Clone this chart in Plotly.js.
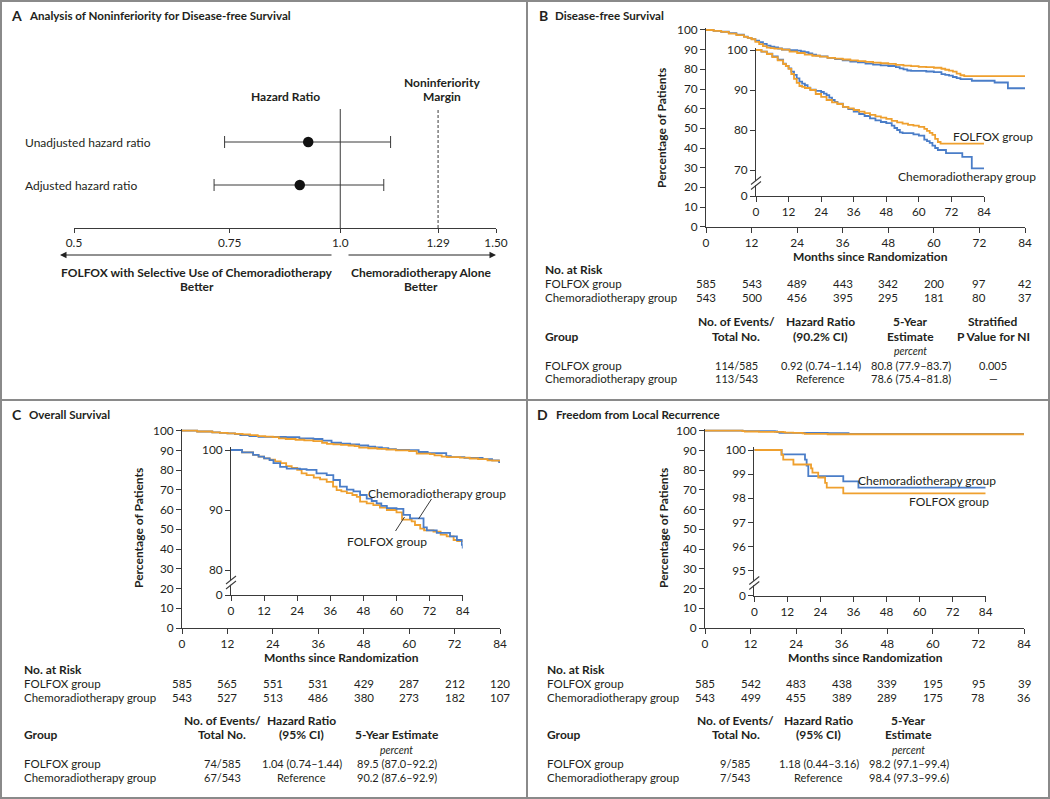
<!DOCTYPE html>
<html><head><meta charset="utf-8">
<script src="https://cdn.plot.ly/plotly-3.0.1.min.js"></script>
<style>html,body{margin:0;padding:0;background:#fff}#chart{width:1050px;height:799px}</style>
</head><body><div id="chart"></div>
<script>
// ================= DATA =================
// Panel A: noninferiority forest plot
const hrLabels = ['Unadjusted hazard ratio', 'Adjusted hazard ratio'];
const hrPoint = [0.92, 0.90];
const hrLow = [0.74, 0.72];
const hrHigh = [1.14, 1.12];
const hrTickVals = [0.5, 0.75, 1.0, 1.29, 1.5];
const hrTickText = ['0.5', '0.75', '1.0', '1.29', '1.50'];
const hrNull = 1.0;
const niMargin = 1.29;

// shared axes
const monthTicks = [0, 12, 24, 36, 48, 60, 72, 84];
const pctTicks = [0, 10, 20, 30, 40, 50, 60, 70, 80, 90, 100];
const groups = ['FOLFOX group', 'Chemoradiotherapy group'];

// Panel B: disease-free survival (Kaplan-Meier steps)
const dfsFolfoxT = [0,2,4,6,8,10,11,12,13,14,15,16,17,18,20,22,24,26,28,30,32,34,36,38,40,42,44,46,48,50,52,54,56,58,60,62,63,64,65,66,67,68,84];
const dfsFolfoxS = [100,99.6,99.0,98.2,97.4,96.5,96.0,95.3,94.0,92.8,91.8,91.0,90.8,90.5,90.0,89.0,88.3,87.5,86.9,86.5,85.8,85.4,85.0,84.6,84.2,83.8,83.4,83.1,82.8,82.3,81.9,81.6,81.3,81.1,80.8,80.3,79.8,79.3,78.8,77.8,77.0,76.6,76.6];
const dfsChemoT = [0,2,4,6,8,10,11,12,13,14,15,16,17,18,19,20,22,24,25,26,27,28,29,30,32,34,36,38,40,42,44,46,48,50,51,52,53,54,58,60,62,63,64,65,66,67,70,76,79.5,84];
const dfsChemoS = [100,99.6,99.1,98.4,97.6,96.6,96.0,95.4,94.6,93.8,92.9,92.1,91.6,91.2,90.6,90.1,89.8,89.5,89.1,88.7,88.1,87.5,87.0,86.6,85.8,85.2,84.6,84.0,83.5,82.9,82.4,82.0,81.7,81.1,80.5,80.0,79.4,79.2,78.9,78.6,77.6,77.2,76.8,76.1,75.5,75.0,74.2,73.3,70.4,70.4];
const dfsInsetTicks = [70, 80, 90, 100];
const riskDfsFolfox = [585, 543, 489, 443, 342, 200, 97, 42];
const riskDfsChemo = [543, 500, 456, 395, 295, 181, 80, 37];
const dfsHeaders = [['No. of Events/', 'Total No.'], ['Hazard Ratio', '(90.2% CI)'], ['5-Year', 'Estimate'], ['Stratified', 'P Value for NI']];
const dfsRows = [['114/585', '0.92 (0.74–1.14)', '80.8 (77.9–83.7)', '0.005'], ['113/543', 'Reference', '78.6 (75.4–81.8)', '—']];

// Panel C: overall survival
const osFolfoxT = [0,4,8,10,12,14,16,18,20,22,24,25.6,27.4,30,32.3,34.7,37,38.3,40,42,44,45.6,46.8,49.2,51.6,54,56.5,60,62,65.5,66.7,68.6,70,73.4,76,78.2,80.7,82,84];
const osFolfoxS = [100,99.6,99.2,98.9,98.6,98.4,98.1,97.8,97.3,97.0,96.7,96.1,95.8,95.4,95.1,94.7,93.9,93.3,93.1,92.8,92.5,92.2,91.4,91.1,90.8,90.4,90.0,89.6,88.4,88.1,87.5,86.9,86.6,86.4,85.9,85.6,85.0,84.8,84.7];
const osChemoT = [0,4,8,10,12,14,15.4,17.8,20.2,25,27.4,31,34.7,37.1,39.5,42,44.4,46.8,49.2,51,52.8,54.5,56.5,60,62.5,64.9,69.8,71,74.6,79.4,81.9,83.7,84];
const osChemoS = [100,99.6,99.2,98.9,98.6,98.3,97.8,97.2,96.9,96.8,96.7,96.1,95.8,95.0,93.9,93.4,93.1,92.5,91.9,91.5,91.1,90.7,90.3,90.2,89.2,88.6,87.1,86.6,86.2,85.6,85.0,84.2,83.6];
const osInsetTicks = [80, 90, 100];
const riskOsFolfox = [585, 565, 551, 531, 429, 287, 212, 120];
const riskOsChemo = [543, 527, 513, 486, 380, 273, 182, 107];
const osHeaders = [['No. of Events/', 'Total No.'], ['Hazard Ratio', '(95% CI)'], ['', '5-Year Estimate']];
const osRows = [['74/585', '1.04 (0.74–1.44)', '89.5 (87.0–92.2)'], ['67/543', 'Reference', '90.2 (87.6–92.9)']];

// Panel D: freedom from local recurrence
const lrFolfoxT = [0,9.9,10.5,14.2,20.6,21.1,23.2,25.7,26.3,32.3,84];
const lrFolfoxS = [100,99.8,99.6,99.4,99.24,99.06,98.86,98.64,98.44,98.2,98.2];
const lrChemoT = [0,9.9,18.4,19,19.6,32.3,37.8,84];
const lrChemoS = [100,99.82,99.6,99.35,98.92,98.7,98.44,98.44];
const lrInsetTicks = [95, 96, 97, 98, 99, 100];
const riskLrFolfox = [585, 542, 483, 438, 339, 195, 95, 39];
const riskLrChemo = [543, 499, 455, 389, 289, 175, 78, 36];
const lrHeaders = [['No. of Events/', 'Total No.'], ['Hazard Ratio', '(95% CI)'], ['5-Year', 'Estimate']];
const lrRows = [['9/585', '1.18 (0.44–3.16)', '98.2 (97.1–99.4)'], ['7/543', 'Reference', '98.4 (97.3–99.6)']];

// ================= LAYOUT HELPERS =================
const W = 1050, H = 799;
const FONT = 'Lato, "Open Sans", sans-serif';
const TXT = '#231f20';
const AX = '#3a3a3a';
const ORANGE = '#EFA02E', BLUE = '#4A7DC8';
const FS = 11.5, FB = 12, FT = 11.8, FV = 11;
const px = x => x / W;
const py = y => 1 - y / H;

function yAxisFrom(vLo, pLo, vHi, pHi, pBottom, extraTop) {
  const s = (pLo - pHi) / (vHi - vLo);
  const rLo = vLo - (pBottom - pLo) / s;
  const pTop = pHi - extraTop * s;
  return {domain: [1 - pBottom / H, 1 - pTop / H], range: [rLo, vHi + extraTop]};
}

const axBase = {
  showgrid: false, zeroline: false, showline: true, linecolor: AX, linewidth: 1,
  ticks: 'outside', ticklen: 5, tickwidth: 1, tickcolor: AX,
  tickfont: {family: FONT, size: FT, color: TXT}, fixedrange: true
};
function xAx(p0, p1, anchor, extra) {
  return Object.assign({}, axBase, {domain: [px(p0), px(p1)], range: [0, 84], anchor: anchor,
    tickvals: monthTicks, ticktext: monthTicks.map(String)}, extra || {});
}
function yMain(spec, anchor) {
  return Object.assign({}, axBase, {domain: spec.domain, range: spec.range, anchor: anchor,
    tickvals: pctTicks, ticktext: pctTicks.map(String)});
}
function yInset(spec, anchor, ticks) {
  return Object.assign({}, axBase, {domain: spec.domain, range: spec.range, anchor: anchor,
    tickvals: [spec.range[0]].concat(ticks), ticktext: ['0'].concat(ticks.map(String))});
}

function T(x, y, text, o) {
  o = o || {};
  let t = text;
  if (o.bold) t = '<b>' + t + '</b>';
  if (o.italic) t = '<i>' + t + '</i>';
  return {
    xref: o.xref || 'paper', yref: o.yref || 'paper',
    x: o.xref && o.xref !== 'paper' ? x : px(x),
    y: o.yref && o.yref !== 'paper' ? y : py(y),
    text: t, showarrow: false, xanchor: o.anchor || 'center', yanchor: 'middle',
    textangle: o.angle || 0,
    font: {family: FONT, size: o.size || FS, color: TXT}
  };
}
function line(x0, y0, x1, y1, color, width, dash) {
  return {type: 'line', xref: 'paper', yref: 'paper', x0: px(x0), y0: py(y0), x1: px(x1), y1: py(y1),
    line: {color: color, width: width, dash: dash || 'solid'}, layer: 'above'};
}
function breakMarks(xp, yc) {
  return [
    line(xp, yc - 2.3, xp, yc + 2.3, '#ffffff', 4),
    line(xp - 5, yc - 2.5 + 4, xp + 5, yc - 2.5 - 4, AX, 1.1),
    line(xp - 5, yc + 2.5 + 4, xp + 5, yc + 2.5 - 4, AX, 1.1)
  ];
}
function km(t, s, color, xa, ya) {
  return {type: 'scatter', mode: 'lines', x: t, y: s, xaxis: xa, yaxis: ya,
    line: {shape: 'hv', color: color, width: 1.8}, hoverinfo: 'skip', showlegend: false};
}

// ================= AXES =================
const bMain = yAxisFrom(0, 226.7, 100, 30, 226.7, 0.8);
const bIns = yAxisFrom(70, 170, 100, 50, 196, 0.6);
const cMain = yAxisFrom(0, 628, 100, 430.7, 628, 0.8);
const cIns = yAxisFrom(80, 570, 100, 450, 595, 0.5);
const dMain = yAxisFrom(0, 628, 100, 430.7, 628, 0.8);
const dIns = yAxisFrom(95, 570.7, 100, 450, 595.7, 0.12);

const rowIdx = hrLabels.map((_, i) => hrLabels.length - 1 - i);

const layout = {
  width: W, height: H, margin: {l: 0, r: 0, t: 0, b: 0},
  paper_bgcolor: '#ffffff', plot_bgcolor: 'rgba(0,0,0,0)', showlegend: false,
  font: {family: FONT, color: TXT},
  xaxis: Object.assign({}, axBase, {domain: [px(74), px(496)], type: 'log',
    range: [Math.log10(0.5), Math.log10(1.5)], anchor: 'y', tickvals: hrTickVals, ticktext: hrTickText, ticklen: 4}),
  yaxis: {domain: [py(228), py(100)], range: [-1, 1.977], visible: false, anchor: 'x', fixedrange: true},
  xaxis2: xAx(706, 1025, 'y2'), yaxis2: yMain(bMain, 'x2'),
  xaxis3: xAx(756, 984, 'y3'), yaxis3: yInset(bIns, 'x3', dfsInsetTicks),
  xaxis4: xAx(182, 500, 'y4'), yaxis4: yMain(cMain, 'x4'),
  xaxis5: xAx(231, 462.7, 'y5'), yaxis5: yInset(cIns, 'x5', osInsetTicks),
  xaxis6: xAx(705, 1024, 'y6'), yaxis6: yMain(dMain, 'x6'),
  xaxis7: xAx(754.3, 985.7, 'y7'), yaxis7: yInset(dIns, 'x7', lrInsetTicks),
  shapes: [], annotations: []
};

// ================= TRACES =================
const traces = [
  {type: 'scatter', mode: 'markers', x: hrPoint, y: rowIdx, xaxis: 'x', yaxis: 'y',
   marker: {size: 10.5, color: '#111'}, hoverinfo: 'skip', showlegend: false,
   error_x: {type: 'data', symmetric: false,
     array: hrPoint.map((p, i) => hrHigh[i] - p), arrayminus: hrPoint.map((p, i) => p - hrLow[i]),
     color: AX, thickness: 1, width: 6}},
  km(dfsChemoT, dfsChemoS, BLUE, 'x2', 'y2'), km(dfsFolfoxT, dfsFolfoxS, ORANGE, 'x2', 'y2'),
  km(dfsChemoT, dfsChemoS, BLUE, 'x3', 'y3'), km(dfsFolfoxT, dfsFolfoxS, ORANGE, 'x3', 'y3'),
  km(osChemoT, osChemoS, BLUE, 'x4', 'y4'), km(osFolfoxT, osFolfoxS, ORANGE, 'x4', 'y4'),
  km(osFolfoxT, osFolfoxS, ORANGE, 'x5', 'y5'), km(osChemoT, osChemoS, BLUE, 'x5', 'y5'),
  km(lrChemoT, lrChemoS, BLUE, 'x6', 'y6'), km(lrFolfoxT, lrFolfoxS, ORANGE, 'x6', 'y6'),
  km(lrChemoT, lrChemoS, BLUE, 'x7', 'y7'), km(lrFolfoxT, lrFolfoxS, ORANGE, 'x7', 'y7')
];

const S = layout.shapes, A = layout.annotations;

// panel frames
const FR = '#8a8a8a';
S.push({type: 'rect', xref: 'paper', yref: 'paper', x0: px(1), y0: py(798), x1: px(1049), y1: py(1), line: {color: FR, width: 2}, layer: 'above'});
S.push(line(527, 0, 527, 799, FR, 2));
S.push(line(0, 400, 1050, 400, FR, 2));

// ---------- Panel A ----------
A.push(T(9, 15, 'A', {anchor: 'left', bold: true, size: 14}));
A.push(T(27, 15, 'Analysis of Noninferiority for Disease-free Survival', {anchor: 'left', bold: true, size: 11.6}));
A.push(T(285, 97, 'Hazard Ratio', {bold: true, size: FB}));
A.push(T(442, 82, 'Noninferiority', {bold: true, size: FB}));
A.push(T(442, 97, 'Margin', {bold: true, size: FB}));
hrLabels.forEach((lab, i) => A.push(T(23, rowIdx[i], lab, {anchor: 'left', yref: 'y', size: 12})));
S.push({type: 'line', xref: 'x', yref: 'paper', x0: hrNull, x1: hrNull, y0: py(228), y1: py(109), line: {color: AX, width: 1}});
S.push({type: 'line', xref: 'x', yref: 'paper', x0: niMargin, x1: niMargin, y0: py(228), y1: py(109), line: {color: AX, width: 1, dash: '3px,2px'}});
A.push({xref: 'paper', yref: 'paper', x: px(60), y: py(255), ax: 273, ay: 0, text: '', showarrow: true,
  arrowhead: 2, arrowsize: 1.3, arrowwidth: 1, arrowcolor: '#222'});
A.push({xref: 'paper', yref: 'paper', x: px(496), y: py(255), ax: -149, ay: 0, text: '', showarrow: true,
  arrowhead: 2, arrowsize: 1.3, arrowwidth: 1, arrowcolor: '#222'});
A.push(T(197, 272, 'FOLFOX with Selective Use of Chemoradiotherapy', {bold: true, size: FB}));
A.push(T(197, 286, 'Better', {bold: true, size: FB}));
A.push(T(421, 272, 'Chemoradiotherapy Alone', {bold: true, size: FB}));
A.push(T(421, 286, 'Better', {bold: true, size: FB}));

// ---------- KM panels ----------
function kmPanel(cfg) {
  A.push(T(cfg.letterX, cfg.titleY, cfg.letter, {anchor: 'left', bold: true, size: 14}));
  A.push(T(cfg.titleX, cfg.titleY, cfg.title, {anchor: 'left', bold: true, size: 11.6}));
  A.push(T(cfg.ytitleX, cfg.ytitleY, 'Percentage of Patients', {bold: true, size: FB, angle: -90}));
  A.push(T(cfg.xtitleX, cfg.xtitleY, 'Months since Randomization', {bold: true, size: FB}));
  A.push(T(cfg.leftX, cfg.riskHeadY, 'No. at Risk', {anchor: 'left', bold: true, size: FB}));
  A.push(T(cfg.leftX, cfg.riskY[0], groups[0], {anchor: 'left'}));
  A.push(T(cfg.leftX, cfg.riskY[1], groups[1], {anchor: 'left'}));
  [cfg.riskF, cfg.riskC].forEach((arr, r) => arr.forEach((n, i) =>
    A.push(T(monthTicks[i], cfg.riskY[r], String(n), {xref: cfg.xa}))));
  A.push(T(cfg.leftX, cfg.headY[1], 'Group', {anchor: 'left', bold: true, size: FB}));
  cfg.headers.forEach((h, c) => h.forEach((ln, k) => {
    if (ln) A.push(T(cfg.colX[c], cfg.headY[k], ln, {bold: true, size: FB}));
  }));
  A.push(T(cfg.colX[cfg.pctCol], cfg.pctY, 'percent', {italic: true, size: 10.5}));
  A.push(T(cfg.leftX, cfg.rowY[0], groups[0], {anchor: 'left'}));
  A.push(T(cfg.leftX, cfg.rowY[1], groups[1], {anchor: 'left'}));
  cfg.rows.forEach((row, r) => row.forEach((v, c) => A.push(T(cfg.colX[c], cfg.rowY[r], v, {size: FV}))));
}

kmPanel({letter: 'B', letterX: 537, titleX: 553, titleY: 16, title: 'Disease-free Survival',
  ytitleX: 662, ytitleY: 128, xtitleX: 870, xtitleY: 256.7, leftX: 543, riskHeadY: 269,
  riskY: [284, 297], riskF: riskDfsFolfox, riskC: riskDfsChemo, xa: 'x2',
  headers: dfsHeaders, colX: [736, 820.5, 910.5, 993], headY: [321.7, 336], pctCol: 2, pctY: 350.7,
  rows: dfsRows, rowY: [365.7, 378.3]});
kmPanel({letter: 'C', letterX: 10, titleX: 27, titleY: 415, title: 'Overall Survival',
  ytitleX: 138, ytitleY: 528, xtitleX: 341.7, xtitleY: 657.3, leftX: 21.7, riskHeadY: 669.3,
  riskY: [683.3, 697.7], riskF: riskOsFolfox, riskC: riskOsChemo, xa: 'x4',
  headers: osHeaders, colX: [222, 301.8, 396.8], headY: [720, 734.3], pctCol: 2, pctY: 750,
  rows: osRows, rowY: [763.3, 777.3]});
kmPanel({letter: 'D', letterX: 535, titleX: 554, titleY: 415, title: 'Freedom from Local Recurrence',
  ytitleX: 663, ytitleY: 528, xtitleX: 865, xtitleY: 657.3, leftX: 545, riskHeadY: 669.3,
  riskY: [683.3, 697.7], riskF: riskLrFolfox, riskC: riskLrChemo, xa: 'x6',
  headers: lrHeaders, colX: [735.5, 818.5, 908.7], headY: [720, 734.3], pctCol: 2, pctY: 750,
  rows: lrRows, rowY: [763.3, 777.3]});

// curve labels
A.push(T(993, 136, groups[0], {size: 12}));
A.push(T(966.7, 176, groups[1], {size: 12}));
A.push(T(436.7, 493, groups[1], {size: 12}));
A.push(T(387, 541, groups[0], {size: 12}));
S.push(line(431.5, 499, 418.5, 519, AX, 1));
S.push(line(395.5, 531, 404.5, 517, AX, 1));
A.push(T(926.7, 480, groups[1], {size: 12}));
A.push(T(949, 501.7, groups[0], {size: 12}));

// axis breaks
breakMarks(756, 183).forEach(s => S.push(s));
breakMarks(231, 582.5).forEach(s => S.push(s));
breakMarks(754.3, 583).forEach(s => S.push(s));

Plotly.newPlot('chart', traces, layout, {displayModeBar: false, staticPlot: true});
</script></body></html>
